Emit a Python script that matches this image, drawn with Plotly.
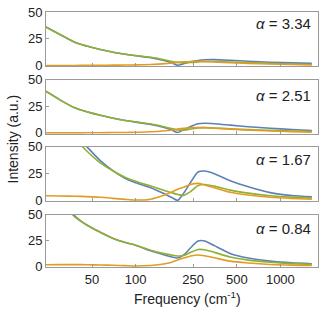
import plotly.graph_objects as go

freq = [24, 30, 38, 46, 57, 70, 85, 100, 127, 160, 178, 195, 215, 240, 270, 300, 350, 450, 600, 850, 1200, 1650]

alphas = ["3.34", "2.51", "1.67", "0.84"]

blue_1 = [36, 29, 21.7, 18.2, 15, 12.5, 10.6, 9.2, 7.4, 4.5, 2.5, 0.3, 1.8, 3.5, 4.8, 5.4, 5.5, 4.9, 4.0, 3.1, 2.5, 2.0]
orange_1 = [0, 0, 0.1, 0.2, 0.3, 0.4, 0.5, 0.6, 1.0, 1.8, 2.4, 3.0, 3.5, 3.8, 3.9, 3.7, 3.3, 2.7, 2.0, 1.4, 1.0, 0.6]
green_1 = [36, 29, 21.7, 18.2, 15, 12.5, 10.6, 9.4, 7.7, 5.2, 3.8, 3.0, 2.7, 2.9, 3.4, 3.8, 3.8, 3.3, 2.7, 2.0, 1.5, 1.0]

blue_2 = [39, 31, 23.5, 19.8, 16.5, 13.8, 11.7, 10.1, 8.0, 4.8, 2.6, 0.3, 3.0, 6.0, 8.5, 9.0, 8.6, 7.3, 5.8, 4.3, 3.2, 2.3]
orange_2 = [0, 0, 0, 0.1, 0.2, 0.3, 0.4, 0.6, 1.0, 2.0, 2.7, 3.5, 4.2, 4.8, 5.1, 4.9, 4.4, 3.5, 2.6, 1.8, 1.2, 0.7]
green_2 = [39, 31, 23.5, 19.8, 16.5, 13.8, 11.7, 10.3, 8.3, 5.6, 4.0, 2.8, 2.6, 3.6, 4.7, 4.9, 4.6, 3.9, 3.1, 2.4, 1.8, 1.3]

blue_3 = [115, 88, 62, 50, 37, 27.5, 20.5, 16.5, 12, 6, 3, 0.3, 7, 17, 26.5, 27.5, 25, 18.5, 13, 7.5, 4.8, 3.5]
orange_3 = [4.6, 4.4, 4.1, 3.8, 3.2, 2.2, 1.2, 0.6, 1.4, 5.5, 8, 10.5, 12.5, 15, 16, 14.5, 12, 7.8, 5.3, 3.2, 2.1, 1.5]
green_3 = [105, 80, 58, 46, 35, 27.5, 21.5, 18, 13.5, 9.2, 7.3, 5.8, 4.9, 8.5, 14, 15, 13.5, 9.8, 7, 4.6, 3.3, 2.5]

blue_4 = [92, 70, 49, 40, 33, 27, 23, 20.5, 15, 10.8, 9, 8, 11, 18, 24.5, 24.5, 20, 12.5, 8, 5, 3.3, 2.5]
orange_4 = [1.5, 1.6, 1.6, 1.5, 1.3, 1.0, 0.6, 0.3, 0.8, 2.5, 4, 6, 8, 10, 11, 10.2, 8.2, 5, 3.2, 1.8, 1.1, 0.8]
green_4 = [85, 65, 48, 40, 33, 27, 23, 20.5, 15.5, 12, 10.8, 10, 10.5, 13.5, 16.3, 16, 13.5, 9, 6, 3.9, 2.6, 2]

panels = [
    (blue_1, orange_1, green_1),
    (blue_2, orange_2, green_2),
    (blue_3, orange_3, green_3),
    (blue_4, orange_4, green_4),
]
label_y = [39, 35, 38, 36.5]
x_ticks = [50, 100, 250, 500, 1000]

colors = {"blue": "#5E81B5", "orange": "#E19C24", "green": "#8FB032"}

domains = [[0.787, 1.0], [0.523, 0.735], [0.257, 0.472], [0.0, 0.205]]

fig = go.Figure()
font_fam = "Liberation Sans, Arial, sans-serif"
for i, (b, o, g) in enumerate(panels):
    n = "" if i == 0 else str(i + 1)
    xa, ya = "x" + n, "y" + n
    for vals, c in [(b, "blue"), (g, "green"), (o, "orange")]:
        fig.add_trace(go.Scatter(x=freq, y=vals, mode="lines", xaxis=xa, yaxis=ya,
                                 line=dict(color=colors[c], width=1.6, shape="spline", smoothing=0.7),
                                 showlegend=False, hoverinfo="skip"))
    axcommon = dict(showline=True, mirror=True, linecolor="#9a9a9a", linewidth=1,
                    showgrid=False, zeroline=False, ticks="inside", ticklen=3,
                    tickcolor="#9a9a9a", tickfont=dict(size=13, color="#222", family=font_fam))
    fig.layout["xaxis" + n] = dict(axcommon, type="log", range=[1.381, 3.26],
                                   domain=[0, 1], anchor=ya,
                                   tickvals=x_ticks, ticktext=[str(t) for t in x_ticks],
                                   showticklabels=(i == 3))
    fig.layout["yaxis" + n] = dict(axcommon, range=[-0.7, 50], domain=domains[i], anchor=xa,
                                   tickvals=[0, 25, 50], ticktext=["0", "25", "50"])
    fig.add_annotation(x=0.982, xref="x" + n + " domain", y=label_y[i], yref=ya,
                       text="<i>α</i> = " + alphas[i], showarrow=False, xanchor="right",
                       yanchor="middle", font=dict(size=15, color="#222", family=font_fam))

fig.add_annotation(x=0.52, xref="paper", y=-0.122, yref="paper", yanchor="middle",
                   text="Frequency (cm<sup>-1</sup>)", showarrow=False,
                   font=dict(size=14, color="#222", family=font_fam))
fig.add_annotation(x=-0.125, xref="paper", y=0.5, yref="paper", xanchor="center",
                   text="Intensity (a.u.)", textangle=-90, showarrow=False,
                   font=dict(size=14, color="#222", family=font_fam))

fig.update_layout(width=324, height=312, margin=dict(l=46, r=6, t=12, b=45),
                  plot_bgcolor="white", paper_bgcolor="white")
fig.write_html("out.html", config={"displayModeBar": False},
               post_script="document.body.style.margin='0px';document.body.style.padding='0px';")
